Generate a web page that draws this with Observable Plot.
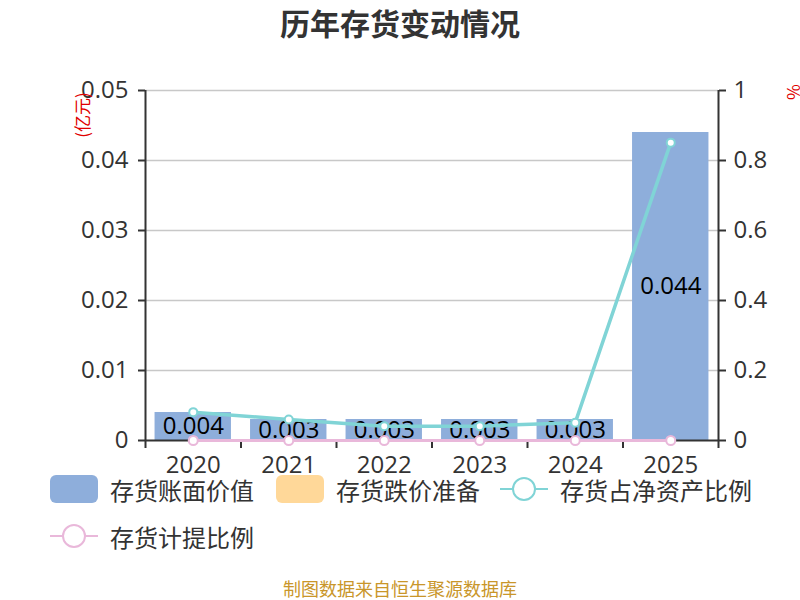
<!DOCTYPE html>
<html>
<head>
<meta charset="utf-8">
<script src="https://cdn.jsdelivr.net/npm/d3@7"></script>
<script src="https://cdn.jsdelivr.net/npm/@observablehq/plot@0.6"></script>
<style>
  body { margin: 0; background: #fff; }
  #wrap { position: relative; width: 800px; height: 600px; overflow: hidden; font-family: "Noto Sans CJK SC", "Noto Sans", sans-serif; }
  #wrap > svg { position: absolute; left: 0; top: 0; }
  .abs { position: absolute; white-space: nowrap; }
  #title { left: 0; width: 800px; top: 4px; text-align: center; font-size: 30px; font-weight: bold; color: #333; line-height: 36px; }
  .unit { color: #e00000; font-size: 17px; line-height: 20px; }
  .leg { display: flex; align-items: center; font-size: 24px; color: #333; height: 34px; }
  .leg svg { flex: none; }
  .sw { width: 48px; height: 28px; border-radius: 6px; margin-right: 12px; flex: none; }
  #caption { left: 0; width: 800px; top: 576px; text-align: center; font-size: 18px; color: #c9962a; line-height: 24px; }
</style>
</head>
<body>
<div id="wrap"></div>
<script>
const years = ["2020", "2021", "2022", "2023", "2024", "2025"];
const bookValue = [0.004, 0.003, 0.003, 0.003, 0.003, 0.044];
const bookLabels = ["0.004", "0.003", "0.003", "0.003", "0.003", "0.044"];
const impairment = [0, 0, 0, 0, 0, 0];
const ratioNetAssets = [0.081, 0.060, 0.041, 0.041, 0.051, 0.851];
const provisionRatio = [0, 0, 0, 0, 0, 0];
const leftTicks = [0, 0.01, 0.02, 0.03, 0.04, 0.05];
const leftMax = 0.05;
const rightMax = 1;

const toLeft = r => r * leftMax / rightMax;
const idx = years.map((_, i) => i);
const bounds = d3.range(-0.5, years.length, 1);
const data = years.map((y, i) => ({
  i, year: y, v: bookValue[i], label: bookLabels[i],
  imp: impairment[i], r: toLeft(ratioNetAssets[i]), p: toLeft(provisionRatio[i])
}));

const teal = "#80d4d6";
const pink = "#e9b8da";
const blue = "#8eaedb";
const orange = "#ffd899";
const numFont = "'Open Sans', 'Noto Sans', sans-serif";

const chart = Plot.plot({
  width: 800, height: 600,
  marginLeft: 145, marginRight: 82, marginTop: 90, marginBottom: 160,
  style: { fontFamily: numFont, fontSize: "24px", color: "#333", background: "transparent" },
  x: { type: "linear", domain: [bounds[0], bounds[bounds.length - 1]], axis: null, label: null },
  y: { domain: [0, leftMax], axis: null, label: null },
  marks: [
    Plot.gridY(leftTicks.slice(1), { stroke: "#c8c8c8", strokeOpacity: 1, strokeWidth: 1.5 }),
    Plot.rectY(data, { x1: d => d.i - 0.4, x2: d => d.i + 0.4, y: "v", fill: blue }),
    Plot.text(data, { x: "i", y: d => d.v / 2, text: "label", fill: "#000", fontSize: 24 }),
    Plot.axisY(leftTicks, { anchor: "left", label: null, tickSize: 7, tickPadding: 10, stroke: "#333", strokeWidth: 2, fill: "#333", fontSize: 24,
      tickFormat: d => d === 0 ? "0" : d3.format(".2f")(d) }),
    Plot.axisY(leftTicks, { anchor: "right", label: null, tickSize: 7, tickPadding: 8, stroke: "#333", strokeWidth: 2, fill: "#333", fontSize: 24,
      tickFormat: d => d3.format("~g")(+(d / leftMax * rightMax).toFixed(2)) }),
    Plot.axisX(bounds, { anchor: "bottom", label: null, tickSize: 8, stroke: "#333", strokeWidth: 2, tickFormat: () => "" }),
    Plot.axisX(idx, { anchor: "bottom", label: null, tickSize: 0, tickPadding: 15, fill: "#333", fontSize: 24, tickFormat: i => years[i] }),
    Plot.ruleX([bounds[0], bounds[bounds.length - 1]], { stroke: "#333", strokeWidth: 2 }),
    Plot.ruleY([0], { stroke: "#333", strokeWidth: 2 }),
    Plot.line(data, { x: "i", y: "p", stroke: pink, strokeWidth: 3 }),
    Plot.dot(data, { x: "i", y: "p", r: 4.5, fill: "#fff", stroke: pink, strokeWidth: 2 }),
    Plot.line(data, { x: "i", y: "r", stroke: teal, strokeWidth: 3.5 }),
    Plot.dot(data, { x: "i", y: "r", r: 4, fill: "#fff", stroke: teal, strokeWidth: 2 })
  ]
});

const wrap = document.getElementById("wrap");
wrap.appendChild(chart);

function addDiv(html, cls, style) {
  const d = document.createElement("div");
  d.className = "abs " + (cls || "");
  d.innerHTML = html;
  Object.assign(d.style, style || {});
  wrap.appendChild(d);
  return d;
}
addDiv("历年存货变动情况", "", {}).id = "title";
addDiv("(亿元)", "unit", { left: "56px", top: "105px", width: "52px", textAlign: "center", transform: "rotate(-90deg)" });
addDiv("%", "unit", { left: "784px", top: "82px", width: "20px", textAlign: "center", transform: "rotate(90deg)" });

function lineIcon(color) {
  return `<svg width="48" height="28" style="margin-right:12px"><line x1="0" y1="14" x2="48" y2="14" stroke="${color}" stroke-width="2"/><circle cx="24" cy="14" r="11" fill="#fff" stroke="${color}" stroke-width="2"/></svg>`;
}
const legendItems = [
  { name: "存货账面价值", icon: `<div class="sw" style="background:${blue}"></div>`, left: 50, top: 472 },
  { name: "存货跌价准备", icon: `<div class="sw" style="background:${orange}"></div>`, left: 276, top: 472 },
  { name: "存货占净资产比例", icon: lineIcon(teal), left: 500, top: 472 },
  { name: "存货计提比例", icon: lineIcon(pink), left: 50, top: 519 }
];
for (const it of legendItems) {
  addDiv(it.icon + `<span>${it.name}</span>`, "leg", { left: it.left + "px", top: it.top + "px" });
}
addDiv("制图数据来自恒生聚源数据库", "", {}).id = "caption";
</script>
</body>
</html>
